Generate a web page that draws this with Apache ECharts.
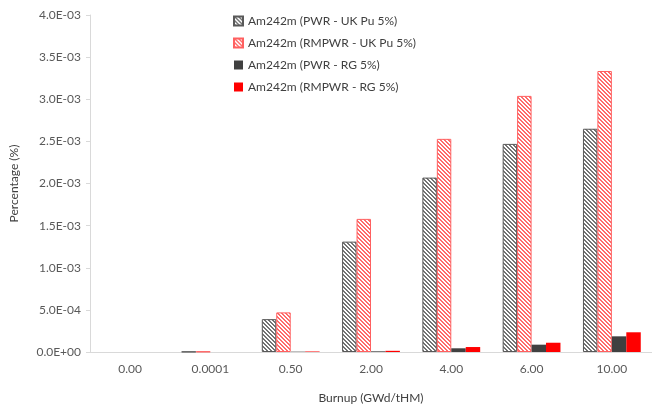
<!DOCTYPE html>
<html>
<head>
<meta charset="utf-8">
<script src="https://cdn.jsdelivr.net/npm/echarts@6/dist/echarts.min.js"></script>
<style>html,body{margin:0;padding:0;background:#fff;}#c{width:652px;height:409px;}</style>
</head>
<body>
<div id="c"></div>
<script>
const categories = ['0.00', '0.0001', '0.50', '2.00', '4.00', '6.00', '10.00'];
const seriesNames = ['Am242m (PWR - UK Pu 5%)', 'Am242m (RMPWR - UK Pu 5%)', 'Am242m (PWR - RG 5%)', 'Am242m (RMPWR - RG 5%)'];
const pwrUK   = [0, 0.000003, 0.00039, 0.00131, 0.00207, 0.00247, 0.00265];
const rmpwrUK = [0, 0.000005, 0.00047, 0.00158, 0.00253, 0.00304, 0.003335];
const pwrRG   = [0, 0, 0.000004, 0.000008, 0.000044, 0.000087, 0.000186];
const rmpwrRG = [0, 0, 0.000006, 0.000014, 0.000059, 0.00011, 0.000234];
const yTicks = { min: 0, max: 0.004, interval: 0.0005 };

function hatch(fg) {
  const c = document.createElement('canvas');
  c.width = 4; c.height = 4;
  const g = c.getContext('2d');
  g.fillStyle = '#ffffff'; g.fillRect(0, 0, 4, 4);
  g.fillStyle = fg;
  for (let i = 0; i < 4; i++) {
    g.fillRect(i, i, 1, 1);
    g.fillRect((i + 1) % 4, i, 1, 1);
  }
  return { image: c, repeat: 'repeat' };
}
function fmt(v) {
  if (v === 0) return '0.0E+00';
  const s = v.toExponential(1).toUpperCase();
  const m = s.match(/^([\d.]+)E([+-])(\d+)$/);
  return m[1] + 'E' + m[2] + (m[3].length < 2 ? '0' + m[3] : m[3]);
}
function items(arr, bw) {
  return arr.map(v => v === 0 ? { value: v, itemStyle: { borderWidth: 0, opacity: 0 } } : { value: v });
}
const font = 'Lato';
const chart = echarts.init(document.getElementById('c'), null, { renderer: 'canvas' });
const grayH = hatch('#737373');
const redH = hatch('#ff6b6b');
chart.setOption({
  animation: false,
  textStyle: { fontFamily: font },
  grid: { left: 87, right: 0, top: 15, bottom: 57, containLabel: false },
  legend: {
    orient: 'vertical', left: 228, top: 10, itemWidth: 9, itemHeight: 9, itemGap: 10,
    textStyle: { fontFamily: font, fontSize: 12, color: '#404040' },
    data: seriesNames.map(n => ({ name: n, icon: 'rect' }))
  },
  xAxis: {
    type: 'category', data: categories,
    name: 'Burnup (GWd/tHM)', nameLocation: 'middle', nameGap: 40,
    nameTextStyle: { fontFamily: font, fontSize: 12, color: '#404040' },
    axisLine: { lineStyle: { color: '#d9d9d9', width: 1 } },
    axisTick: { show: false },
    axisLabel: { fontFamily: font, fontSize: 12, color: '#595959', margin: 11 }
  },
  yAxis: {
    type: 'value', min: yTicks.min, max: yTicks.max, interval: yTicks.interval,
    name: 'Percentage (%)', nameLocation: 'middle', nameGap: 70, nameRotate: 90,
    nameTextStyle: { fontFamily: font, fontSize: 12, color: '#404040' },
    axisLine: { show: true, lineStyle: { color: '#d9d9d9', width: 1 } },
    axisTick: { show: true, length: 4, lineStyle: { color: '#d9d9d9' } },
    splitLine: { show: false },
    axisLabel: { fontFamily: font, fontSize: 12, color: '#595959', margin: 9, formatter: fmt }
  },
  series: [
    { name: seriesNames[0], type: 'bar', data: items(pwrUK), barGap: '0%', barCategoryGap: '28%',
      itemStyle: { color: grayH, borderColor: '#595959', borderWidth: 1 } },
    { name: seriesNames[1], type: 'bar', data: items(rmpwrUK), barGap: '0%', barCategoryGap: '28%',
      itemStyle: { color: redH, borderColor: '#ff6060', borderWidth: 1 } },
    { name: seriesNames[2], type: 'bar', data: items(pwrRG), barGap: '0%', barCategoryGap: '28%',
      itemStyle: { color: '#404040' } },
    { name: seriesNames[3], type: 'bar', data: items(rmpwrRG), barGap: '0%', barCategoryGap: '28%',
      itemStyle: { color: '#ff0000' } }
  ]
});
</script>
</body>
</html>
